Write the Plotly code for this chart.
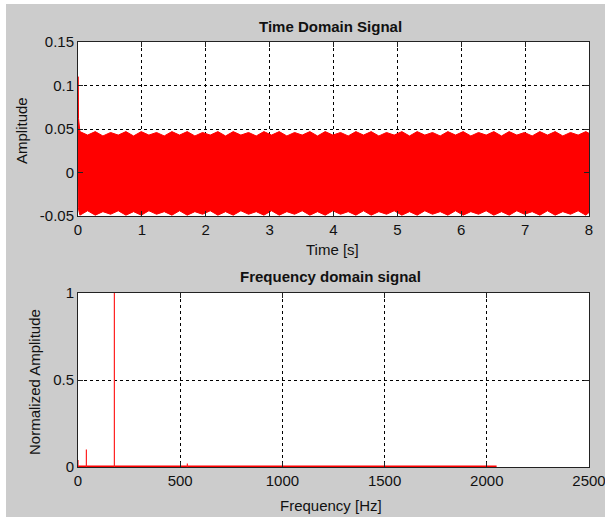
import plotly.graph_objects as go
from plotly.subplots import make_subplots

# ---- time-domain signal: start transient plus upper/lower envelope of the oscillation ----
t_env = [0.0, 0.004, 0.008, 0.012, 0.03,
         0.15, 0.27, 0.39, 0.51, 0.63, 0.75, 0.87, 0.99, 1.11, 1.23, 1.35, 1.47,
         1.59, 1.71, 1.83, 1.95, 2.07, 2.19, 2.31, 2.43, 2.55, 2.67, 2.79, 2.91,
         3.03, 3.15, 3.27, 3.39, 3.51, 3.63, 3.75, 3.87, 3.99, 4.11, 4.23, 4.35,
         4.47, 4.59, 4.71, 4.83, 4.95, 5.07, 5.19, 5.31, 5.43, 5.55, 5.67, 5.79,
         5.91, 6.03, 6.15, 6.27, 6.39, 6.51, 6.63, 6.75, 6.87, 6.99, 7.11, 7.23,
         7.35, 7.47, 7.59, 7.71, 7.83, 7.95, 8.0]
upper_env = [0.110, 0.110, 0.062, 0.060, 0.047,
             0.043, 0.047, 0.042, 0.046, 0.043, 0.047, 0.042, 0.047, 0.043, 0.046,
             0.042, 0.047, 0.043, 0.047, 0.042, 0.046, 0.043, 0.047, 0.042, 0.047,
             0.043, 0.046, 0.042, 0.047, 0.043, 0.047, 0.042, 0.046, 0.043, 0.047,
             0.042, 0.047, 0.043, 0.046, 0.042, 0.047, 0.043, 0.047, 0.042, 0.046,
             0.043, 0.047, 0.042, 0.047, 0.043, 0.046, 0.042, 0.047, 0.043, 0.047,
             0.042, 0.046, 0.043, 0.047, 0.042, 0.047, 0.043, 0.046, 0.042, 0.047,
             0.043, 0.047, 0.042, 0.046, 0.043, 0.047, 0.045]
lower_env = [-0.012, -0.040, -0.042, -0.045, -0.049,
             -0.044, -0.049, -0.045, -0.048, -0.044, -0.049, -0.045, -0.049, -0.044, -0.048,
             -0.045, -0.049, -0.044, -0.049, -0.045, -0.048, -0.044, -0.049, -0.045, -0.049,
             -0.044, -0.048, -0.045, -0.049, -0.044, -0.049, -0.045, -0.048, -0.044, -0.049,
             -0.045, -0.049, -0.044, -0.048, -0.045, -0.049, -0.044, -0.049, -0.045, -0.048,
             -0.044, -0.049, -0.045, -0.049, -0.044, -0.048, -0.045, -0.049, -0.044, -0.049,
             -0.045, -0.048, -0.044, -0.049, -0.045, -0.049, -0.044, -0.048, -0.045, -0.049,
             -0.044, -0.049, -0.045, -0.048, -0.044, -0.049, -0.046]

# ---- frequency-domain signal: spectral lines and the low floor up to Nyquist ----
peak_freq = [0, 41, 178, 535]
peak_amp = [0.04, 0.10, 1.00, 0.02]
floor_freq = [0, 2048]
floor_amp = [0.004, 0.004]

time_ticks = [0, 1, 2, 3, 4, 5, 6, 7, 8]
amp_ticks = [-0.05, 0, 0.05, 0.1, 0.15]
freq_ticks = [0, 500, 1000, 1500, 2000, 2500]
norm_ticks = [0, 0.5, 1]

RED = "#ff0000"
GRAY = "#cccccc"
INK = "#111111"
FONT = "Liberation Sans, Arial, sans-serif"
FS = 15

fig = make_subplots(rows=2, cols=1, vertical_spacing=0.0)

# filled envelope polygon for the dense oscillation
poly_x = t_env + t_env[::-1]
poly_y = upper_env + lower_env[::-1]
fig.add_trace(go.Scatter(x=poly_x, y=poly_y, mode="lines", fill="toself",
                         fillcolor=RED, line=dict(color=RED, width=1),
                         hoverinfo="skip", showlegend=False), row=1, col=1)

# stems for each spectral line
stem_x, stem_y = [], []
for f, a in zip(peak_freq, peak_amp):
    stem_x += [f, f, None]
    stem_y += [0, a, None]
fig.add_trace(go.Scatter(x=floor_freq, y=floor_amp, mode="lines",
                         line=dict(color=RED, width=1.5), showlegend=False), row=2, col=1)
fig.add_trace(go.Scatter(x=stem_x, y=stem_y, mode="lines",
                         line=dict(color="#ff2020", width=1.2), showlegend=False), row=2, col=1)

axis_common = dict(
    showline=True, linecolor="#222222", linewidth=1, mirror="ticks",
    ticks="inside", ticklen=5, tickcolor="#222222",
    showgrid=True, gridcolor="#000000", gridwidth=1, griddash="3px,3px",
    zeroline=False, automargin=False, ticklabeloverflow="allow",
    tickfont=dict(family=FONT, size=FS, color=INK),
)

fig.update_xaxes(**axis_common)
fig.update_yaxes(**axis_common)

fig.update_xaxes(range=[0, 8], tickvals=time_ticks, domain=[0, 1], row=1, col=1)
fig.update_yaxes(range=[-0.05, 0.15], tickvals=amp_ticks,
                 ticktext=["-0.05", "0", "0.05", "0.1", "0.15"],
                 domain=[0.5906, 1.0], row=1, col=1)
fig.update_xaxes(range=[0, 2500], tickvals=freq_ticks, domain=[0, 1], row=2, col=1)
fig.update_yaxes(range=[0, 1], tickvals=norm_ticks, ticktext=["0", "0.5", "1"],
                 domain=[0.0, 0.4094], row=2, col=1)

W, H = 605, 517
L, R, T, B = 78, 16, 42, 50
pw, ph = W - L - R, H - T - B


def px_x(px):
    return (px - L) / pw


def px_y(py):
    return (H - B - py) / ph


annots = [
    dict(text="<b>Time Domain Signal</b>", x=px_x(330), y=px_y(26)),
    dict(text="<b>Frequency domain signal</b>", x=px_x(330), y=px_y(276)),
    dict(text="Time [s]", x=px_x(332), y=px_y(249)),
    dict(text="Frequency [Hz]", x=px_x(331), y=px_y(505)),
]
ann_list = []
for a in annots:
    ann_list.append(dict(text=a["text"], x=a["x"], y=a["y"], xref="paper", yref="paper",
                         xanchor="center", yanchor="middle", showarrow=False,
                         font=dict(family=FONT, size=FS, color=INK)))
ann_list.append(dict(text="Amplitude", x=px_x(21), y=px_y(131), xref="paper", yref="paper",
                     xanchor="center", yanchor="middle", showarrow=False, textangle=-90,
                     font=dict(family=FONT, size=FS, color=INK)))
ann_list.append(dict(text="Normalized Amplitude", x=px_x(34), y=px_y(382), xref="paper",
                     yref="paper", xanchor="center", yanchor="middle", showarrow=False,
                     textangle=-90, font=dict(family=FONT, size=FS, color=INK)))

# thin white border along the top and left edge of the figure
shapes = [
    dict(type="rect", xref="paper", yref="paper", x0=px_x(0), x1=px_x(W),
         y0=px_y(4), y1=px_y(0), fillcolor="white", line=dict(width=0), layer="below"),
    dict(type="rect", xref="paper", yref="paper", x0=px_x(0), x1=px_x(6),
         y0=px_y(H), y1=px_y(0), fillcolor="white", line=dict(width=0), layer="below"),
]

fig.update_layout(
    width=W, height=H, autosize=False, margin=dict(l=L, r=R, t=T, b=B),
    paper_bgcolor=GRAY, plot_bgcolor="white",
    font=dict(family=FONT, size=FS, color=INK),
    annotations=ann_list, shapes=shapes, showlegend=False,
)

fig.write_html("out.html", config={"responsive": False})
